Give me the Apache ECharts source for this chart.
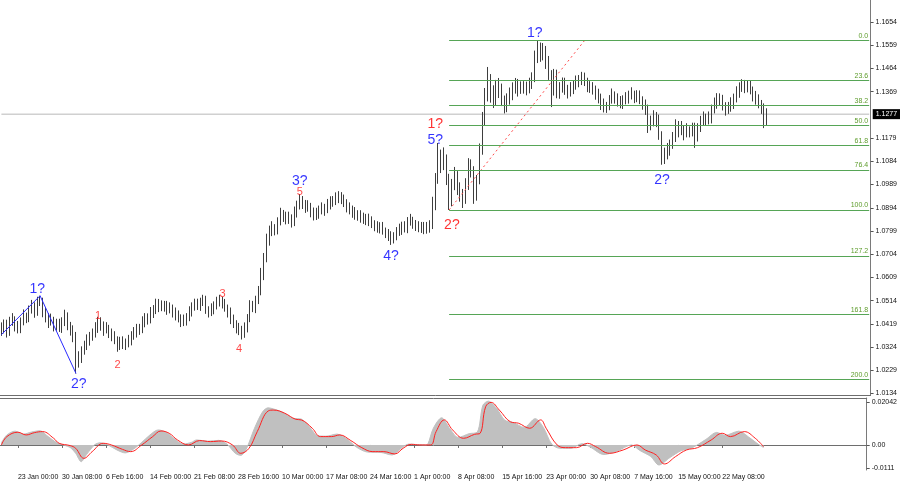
<!DOCTYPE html>
<html><head><meta charset="utf-8">
<script src="https://cdn.jsdelivr.net/npm/echarts@6/dist/echarts.min.js"></script>
<style>html,body{margin:0;padding:0;background:#fff}#c{width:900px;height:485px}</style>
</head><body><div id="c"></div>
<script>
// ---- data (8h slots) ----
const firstOpen = 1.0405;
const closes = [
1.0394,1.0415,1.0386,1.0427,1.0435,1.0410,1.0402,1.0427,1.0451,1.0443,
1.0476,1.0492,1.0468,1.0509,1.0517,1.0468,1.0443,1.0427,1.0435,1.0410,
1.0419,1.0402,1.0427,1.0443,1.0410,1.0394,1.0369,1.0264,1.0280,1.0313,
1.0328,1.0353,1.0369,1.0378,1.0402,1.0427,1.0410,1.0394,1.0402,1.0382,
1.0369,1.0353,1.0333,1.0345,1.0333,1.0341,1.0353,1.0369,1.0382,1.0402,
1.0394,1.0427,1.0443,1.0435,1.0464,1.0476,1.0501,1.0492,1.0488,1.0497,
1.0476,1.0484,1.0468,1.0451,1.0443,1.0427,1.0435,1.0443,1.0468,1.0492,
1.0501,1.0492,1.0509,1.0513,1.0476,1.0468,1.0480,1.0492,1.0509,1.0517,
1.0501,1.0484,1.0468,1.0435,1.0419,1.0402,1.0394,1.0378,1.0402,1.0443,
1.0492,1.0484,1.0517,1.0550,1.0620,1.0689,1.0762,1.0795,1.0811,1.0803,
1.0836,1.0869,1.0860,1.0844,1.0852,1.0836,1.0877,1.0901,1.0926,1.0910,
1.0893,1.0901,1.0877,1.0860,1.0869,1.0885,1.0893,1.0885,1.0906,1.0926,
1.0918,1.0934,1.0942,1.0926,1.0914,1.0897,1.0885,1.0877,1.0860,1.0869,
1.0852,1.0844,1.0852,1.0836,1.0828,1.0819,1.0811,1.0815,1.0799,1.0791,
1.0778,1.0762,1.0778,1.0795,1.0803,1.0819,1.0811,1.0836,1.0844,1.0828,
1.0819,1.0811,1.0819,1.0803,1.0811,1.0824,1.0906,1.1008,1.1111,1.1070,
1.1090,1.1016,1.0926,1.0988,1.1029,1.0975,1.0947,1.0926,1.0988,1.1070,
1.1041,1.0947,1.1008,1.1131,1.1253,1.1356,1.1417,1.1368,1.1335,1.1397,
1.1376,1.1335,1.1302,1.1335,1.1356,1.1384,1.1401,1.1376,1.1384,1.1392,
1.1376,1.1401,1.1425,1.1507,1.1547,1.1520,1.1532,1.1491,1.1438,1.1376,
1.1438,1.1368,1.1384,1.1401,1.1376,1.1368,1.1384,1.1392,1.1409,1.1417,
1.1425,1.1409,1.1392,1.1384,1.1376,1.1360,1.1343,1.1319,1.1302,1.1310,
1.1335,1.1356,1.1343,1.1327,1.1319,1.1335,1.1343,1.1352,1.1360,1.1343,
1.1352,1.1335,1.1319,1.1294,1.1237,1.1245,1.1269,1.1253,1.1192,1.1111,
1.1115,1.1131,1.1151,1.1179,1.1204,1.1228,1.1212,1.1196,1.1212,1.1204,
1.1220,1.1187,1.1220,1.1245,1.1261,1.1253,1.1261,1.1294,1.1319,1.1343,
1.1335,1.1310,1.1294,1.1302,1.1319,1.1343,1.1368,1.1384,1.1401,1.1384,
1.1392,1.1376,1.1352,1.1335,1.1319,1.1302,1.1245,1.1278];
const highs = [
1.0425,1.0437,1.0436,1.0448,1.0463,1.0450,1.0431,1.0445,1.0478,1.0465,
1.0494,1.0517,1.0507,1.0530,1.0534,1.0526,1.0488,1.0463,1.0461,1.0448,
1.0440,1.0440,1.0446,1.0477,1.0466,1.0427,1.0413,1.0386,1.0307,1.0327,
1.0350,1.0376,1.0386,1.0400,1.0426,1.0448,1.0446,1.0429,1.0426,1.0415,
1.0400,1.0389,1.0368,1.0366,1.0368,1.0359,1.0374,1.0389,1.0406,1.0419,
1.0419,1.0450,1.0463,1.0462,1.0488,1.0496,1.0522,1.0521,1.0515,1.0513,
1.0513,1.0507,1.0498,1.0486,1.0474,1.0458,1.0457,1.0463,1.0491,1.0507,
1.0522,1.0522,1.0526,1.0538,1.0534,1.0491,1.0503,1.0511,1.0530,1.0538,
1.0530,1.0521,1.0498,1.0486,1.0457,1.0434,1.0423,1.0411,1.0425,1.0459,
1.0516,1.0513,1.0534,1.0574,1.0648,1.0709,1.0788,1.0821,1.0839,1.0827,
1.0855,1.0894,1.0885,1.0878,1.0878,1.0867,1.0899,1.0923,1.0950,1.0942,
1.0926,1.0925,1.0914,1.0895,1.0894,1.0903,1.0916,1.0910,1.0930,1.0941,
1.0942,1.0957,1.0962,1.0958,1.0948,1.0929,1.0916,1.0903,1.0897,1.0884,
1.0884,1.0874,1.0869,1.0870,1.0859,1.0843,1.0839,1.0835,1.0836,1.0813,
1.0807,1.0798,1.0794,1.0815,1.0829,1.0837,1.0839,1.0856,1.0869,1.0857,
1.0844,1.0839,1.0836,1.0836,1.0836,1.0843,1.0939,1.1036,1.1159,1.1132,
1.1141,1.1112,1.1033,1.1012,1.1061,1.1044,1.0998,1.0971,1.1015,1.1097,
1.1092,1.1064,1.1028,1.1157,1.1286,1.1384,1.1470,1.1441,1.1395,1.1417,
1.1425,1.1402,1.1353,1.1362,1.1386,1.1407,1.1425,1.1421,1.1411,1.1412,
1.1410,1.1426,1.1448,1.1537,1.1578,1.1570,1.1568,1.1556,1.1515,1.1457,
1.1462,1.1459,1.1408,1.1427,1.1426,1.1397,1.1408,1.1415,1.1435,1.1437,
1.1450,1.1447,1.1426,1.1412,1.1408,1.1394,1.1381,1.1361,1.1341,1.1327,
1.1355,1.1382,1.1370,1.1362,1.1351,1.1354,1.1367,1.1373,1.1387,1.1373,
1.1375,1.1374,1.1350,1.1337,1.1316,1.1271,1.1293,1.1286,1.1275,1.1207,
1.1140,1.1159,1.1173,1.1204,1.1256,1.1249,1.1249,1.1231,1.1240,1.1227,
1.1242,1.1242,1.1240,1.1270,1.1288,1.1279,1.1288,1.1316,1.1345,1.1363,
1.1362,1.1356,1.1326,1.1327,1.1346,1.1361,1.1391,1.1407,1.1420,1.1417,
1.1416,1.1414,1.1390,1.1372,1.1358,1.1335,1.1321,1.1301];
const lows = [
1.0370,1.0380,1.0363,1.0370,1.0411,1.0388,1.0380,1.0381,1.0413,1.0422,
1.0426,1.0461,1.0444,1.0452,1.0492,1.0446,1.0425,1.0402,1.0412,1.0388,
1.0391,1.0386,1.0382,1.0410,1.0393,1.0371,1.0344,1.0216,1.0240,1.0259,
1.0293,1.0312,1.0330,1.0350,1.0363,1.0382,1.0391,1.0370,1.0380,1.0361,
1.0348,1.0336,1.0305,1.0312,1.0316,1.0312,1.0323,1.0331,1.0354,1.0363,
1.0374,1.0381,1.0405,1.0416,1.0421,1.0443,1.0459,1.0467,1.0471,1.0469,
1.0456,1.0462,1.0445,1.0433,1.0425,1.0406,1.0410,1.0412,1.0430,1.0449,
1.0473,1.0476,1.0472,1.0492,1.0460,1.0445,1.0451,1.0458,1.0478,1.0490,
1.0482,1.0469,1.0445,1.0418,1.0402,1.0380,1.0373,1.0355,1.0362,1.0384,
1.0426,1.0467,1.0463,1.0500,1.0536,1.0598,1.0671,1.0739,1.0778,1.0781,
1.0785,1.0822,1.0836,1.0826,1.0828,1.0813,1.0819,1.0854,1.0887,1.0889,
1.0873,1.0878,1.0855,1.0842,1.0844,1.0849,1.0867,1.0861,1.0872,1.0887,
1.0898,1.0905,1.0913,1.0909,1.0897,1.0875,1.0867,1.0853,1.0845,1.0841,
1.0833,1.0828,1.0823,1.0819,1.0811,1.0798,1.0792,1.0789,1.0784,1.0770,
1.0758,1.0742,1.0748,1.0761,1.0779,1.0783,1.0793,1.0790,1.0821,1.0808,
1.0799,1.0794,1.0791,1.0786,1.0788,1.0792,1.0807,1.0884,1.0992,1.1036,
1.1048,1.0987,1.0885,1.0900,1.0966,1.0946,1.0919,1.0893,1.0910,1.0967,
1.1018,1.0910,1.0923,1.0990,1.1111,1.1231,1.1329,1.1324,1.1302,1.1312,
1.1343,1.1310,1.1280,1.1285,1.1316,1.1334,1.1361,1.1349,1.1360,1.1361,
1.1354,1.1362,1.1380,1.1408,1.1486,1.1491,1.1497,1.1462,1.1417,1.1306,
1.1353,1.1342,1.1340,1.1365,1.1356,1.1341,1.1349,1.1359,1.1377,1.1387,
1.1396,1.1392,1.1367,1.1364,1.1357,1.1336,1.1321,1.1294,1.1284,1.1282,
1.1293,1.1320,1.1320,1.1308,1.1301,1.1298,1.1317,1.1320,1.1337,1.1322,
1.1326,1.1318,1.1295,1.1274,1.1200,1.1211,1.1227,1.1224,1.1172,1.1070,
1.1073,1.1092,1.1107,1.1135,1.1163,1.1182,1.1191,1.1170,1.1182,1.1182,
1.1186,1.1139,1.1165,1.1204,1.1229,1.1230,1.1235,1.1239,1.1280,1.1299,
1.1314,1.1292,1.1271,1.1278,1.1287,1.1298,1.1325,1.1344,1.1368,1.1363,
1.1366,1.1358,1.1329,1.1316,1.1301,1.1278,1.1220,1.1232];

const slotCount = 315;          // 8-hour slots across the plot (incl. empty right margin)
const tickStart = 6, tickStep = 16;
const tickLabels = ['23 Jan 00:00','30 Jan 08:00','6 Feb 16:00','14 Feb 00:00','21 Feb 08:00',
  '28 Feb 16:00','10 Mar 00:00','17 Mar 08:00','24 Mar 16:00','1 Apr 00:00','8 Apr 08:00',
  '15 Apr 16:00','23 Apr 00:00','30 Apr 08:00','7 May 16:00','15 May 00:00','22 May 08:00'];
const priceTicks = [1.1654,1.1559,1.1464,1.1369,1.1179,1.1084,1.0989,1.0894,1.0799,1.0704,
  1.0609,1.0514,1.0419,1.0324,1.0229,1.0134];
const lastPrice = 1.1277;

const fibLevels = [0,23.6,38.2,50,61.8,76.4,100,127.2,161.8,200];
const fibLow = [162, 1.0885];
const fibHigh = [211, 1.1578];

const waveLine = [[0,1.0375],[14,1.0534],[27,1.0216]];
// [text, slot, price, kind]  kind: b = blue wave, R = red wave, r = red sub-wave
const waveLabels = [
  ['1?',13,1.0562,'b'],['2?',28,1.0174,'b'],['1',35,1.0451,'r'],['2',42,1.0252,'r'],
  ['3',80,1.0542,'r'],['4',86,1.0316,'r'],['5',108,1.0959,'r'],['3?',108,1.1004,'b'],
  ['4?',141,1.0697,'b'],['5?',157,1.1171,'b'],['1?',157,1.1237,'R'],['2?',163,1.0824,'R'],
  ['1?',193,1.1609,'b'],['2?',239,1.1008,'b']];

const oscTicks = [0.02042, 0, -0.0111];
const oscTickText = ['0.02042','0.00','-0.0111'];
const macdHist = [[0,0.0010],[2,0.0048],[5,0.0066],[8,0.0052],[11,0.0062],[14,0.0068],[17,0.0040],
 [20,0.0012],[23,-0.0002],[25,-0.0012],[27,-0.0040],[29,-0.0080],[31,-0.0045],[34,0.0002],[36,0.0010],
 [39,-0.0002],[42,-0.0024],[45,-0.0038],[48,-0.0020],[51,0.0012],[54,0.0048],[57,0.0072],[60,0.0060],
 [63,0.0028],[66,0.0004],[69,0.0012],[71,0.0024],[75,0.0018],[79,0.0022],[82,0.0004],[85,-0.0040],
 [87,-0.0050],[89,-0.0020],[92,0.0080],[95,0.0160],[97,0.0178],[99,0.0172],[102,0.0158],[106,0.0128],
 [109,0.0124],[112,0.0086],[115,0.0044],[118,0.0042],[122,0.0052],[126,0.0024],[129,-0.0010],
 [133,-0.0034],[138,-0.0036],[142,-0.0048],[145,-0.0020],[148,0.0004],[151,0.0002],[154,0.0000],
 [155,0.0004],[157,0.0080],[160,0.0130],[163,0.0078],[166,0.0036],[170,0.0054],[173,0.0062],
 [175,0.0190],[177,0.0210],[180,0.0175],[183,0.0118],[186,0.0108],[190,0.0084],[194,0.0126],
 [197,0.0084],[200,0.0004],[203,-0.0016],[207,-0.0016],[211,0.0006],[214,-0.0010],[219,-0.0046],
 [224,-0.0028],[229,0.0000],[232,-0.0026],[236,-0.0055],[239,-0.0096],[243,-0.0060],[247,-0.0028],
 [251,-0.0014],[256,0.0026],[260,0.0060],[263,0.0046],[268,0.0066],[272,0.0034],[275,0.0004],[277,-0.0012]];
const macdSignal = [[0,0.0000],[2,0.0040],[6,0.0061],[9,0.0048],[12,0.0059],[15,0.0064],[19,0.0032],
 [21,0.0008],[25,-0.0003],[27,-0.0016],[30,-0.0064],[33,-0.0032],[37,0.0008],[40,0.0000],[44,-0.0021],
 [47,-0.0032],[51,0.0000],[55,0.0040],[58,0.0067],[61,0.0056],[64,0.0024],[68,0.0000],[72,0.0021],
 [76,0.0016],[80,0.0019],[84,0.0000],[87,-0.0040],[90,-0.0016],[93,0.0064],[97,0.0163],[99,0.0167],
 [103,0.0152],[107,0.0123],[109,0.0120],[113,0.0080],[116,0.0040],[120,0.0040],[123,0.0048],
 [127,0.0021],[131,-0.0013],[135,-0.0032],[139,-0.0032],[143,-0.0043],[146,-0.0016],[149,0.0003],
 [152,0.0000],[156,0.0000],[158,0.0064],[161,0.0120],[164,0.0072],[168,0.0032],[172,0.0051],
 [174,0.0056],[176,0.0183],[178,0.0204],[181,0.0167],[185,0.0111],[188,0.0104],[192,0.0080],
 [196,0.0120],[198,0.0080],[202,0.0000],[205,-0.0013],[209,-0.0013],[213,0.0008],[216,-0.0008],
 [221,-0.0040],[226,-0.0024],[231,0.0000],[234,-0.0024],[238,-0.0048],[241,-0.0091],[245,-0.0056],
 [249,-0.0024],[253,-0.0013],[258,0.0024],[262,0.0056],[265,0.0040],[270,0.0064],[274,0.0032],[277,-0.0008]];

// ---- build ----
const isTick = i => i >= tickStart && (i - tickStart) % tickStep === 0 && (i - tickStart) / tickStep < tickLabels.length;
const cats = Array.from({length: slotCount}, (_, i) => isTick(i) ? tickLabels[(i - tickStart) / tickStep] : 's' + i);
const ohlc = closes.map((c, i) => [i === 0 ? firstOpen : closes[i - 1], c, lows[i], highs[i]]);
const fibPrice = l => fibHigh[1] - (fibHigh[1] - fibLow[1]) * l / 100;
const axFont = '"Liberation Sans Narrow","Liberation Sans",Arial,sans-serif';
const kindStyle = {
  b: {color: '#0000ff', fontSize: 14},
  R: {color: '#ff0000', fontSize: 14},
  r: {color: '#ff1a1a', fontSize: 11}
};
const BAR = '#3e3e3e';

const chart = echarts.init(document.getElementById('c'), null, {renderer: 'canvas'});
chart.setOption({
  animation: false,
  backgroundColor: '#ffffff',
  grid: [
    {left: 0, right: 28, top: 0, height: 395},
    {left: 0, right: 28, top: 398, height: 72}
  ],
  xAxis: [
    {type: 'category', gridIndex: 0, data: cats, boundaryGap: true,
     axisLine: {show: true, lineStyle: {color: '#6e6e6e', width: 1}},
     axisTick: {show: false}, axisLabel: {show: false}, splitLine: {show: false}},
    {type: 'category', gridIndex: 1, data: cats, boundaryGap: true,
     axisLine: {show: true, lineStyle: {color: '#6e6e6e', width: 1}},
     axisTick: {show: true, alignWithLabel: true, length: 3, interval: (i) => isTick(i), lineStyle: {color: '#6e6e6e'}},
     axisLabel: {show: true, interval: (i) => isTick(i), align: 'left', margin: 4, fontSize: 7,
                 fontFamily: axFont, color: '#111'},
     splitLine: {show: false}},
    {type: 'category', gridIndex: 1, data: cats, position: 'top', boundaryGap: true,
     axisLine: {show: true, lineStyle: {color: '#6e6e6e', width: 1}},
     axisTick: {show: false}, axisLabel: {show: false}}
  ],
  yAxis: [
    {type: 'value', gridIndex: 0, position: 'right', min: 1.0128, max: 1.1744,
     axisLine: {show: true, lineStyle: {color: '#7a7a7a', width: 1}},
     axisTick: {show: true, length: 3, customValues: priceTicks, lineStyle: {color: '#555'}},
     axisLabel: {show: true, customValues: priceTicks, formatter: v => v.toFixed(4), fontSize: 7,
                 fontFamily: axFont, color: '#111', margin: 5},
     splitLine: {show: false}},
    {type: 'value', gridIndex: 1, position: 'right', min: -0.0120, max: 0.0225,
     axisLine: {show: true, lineStyle: {color: '#7a7a7a', width: 1}},
     axisTick: {show: true, length: 3, customValues: oscTicks, lineStyle: {color: '#555'}},
     axisLabel: {show: true, customValues: oscTicks,
                 formatter: v => oscTickText[oscTicks.findIndex(t => Math.abs(t - v) < 1e-9)] || '',
                 fontSize: 7, fontFamily: axFont, color: '#111', margin: 5},
     splitLine: {show: false}}
  ],
  series: [
    // current price line, labelled on the price axis
    {type: 'line', xAxisIndex: 0, yAxisIndex: 0, symbol: 'circle', symbolSize: 1, showSymbol: true,
     silent: true, z: 1, clip: false,
     itemStyle: {color: 'rgba(0,0,0,0)'},
     lineStyle: {color: '#d0d0d0', width: 1.5},
     data: [[0, lastPrice], {value: [slotCount - 1, lastPrice],
       label: {show: true, position: 'right', distance: 3, formatter: lastPrice.toFixed(4),
               backgroundColor: '#000', color: '#fff', fontSize: 7, fontFamily: axFont, padding: [2, 3, 1, 3]}}]},
    // fibonacci levels
    {type: 'line', xAxisIndex: 0, yAxisIndex: 0, data: [], silent: true,
     markLine: {silent: true, symbol: ['none', 'none'],
       lineStyle: {color: '#56a556', width: 1, type: 'solid'},
       label: {show: true, position: 'insideEndTop', color: '#5e9c2c', fontSize: 7, fontFamily: axFont, distance: 1},
       data: fibLevels.map(l => [
         {coord: [fibLow[0], fibPrice(l)], label: {formatter: l.toFixed(1)}},
         {coord: [slotCount - 1, fibPrice(l)]}
       ])}},
    {type: 'line', xAxisIndex: 0, yAxisIndex: 0, data: [fibLow, fibHigh], symbol: 'none', silent: true,
     lineStyle: {color: '#ff4a4a', width: 1, type: [2, 3]}},
    {type: 'candlestick', xAxisIndex: 0, yAxisIndex: 0, data: ohlc, barWidth: 1.2, silent: true,
     itemStyle: {color: BAR, color0: BAR, borderColor: BAR, borderColor0: BAR, borderWidth: 1}},
    {type: 'line', xAxisIndex: 0, yAxisIndex: 0, data: waveLine, symbol: 'none', silent: true,
     lineStyle: {color: '#2a2aff', width: 1}},
    {type: 'scatter', xAxisIndex: 0, yAxisIndex: 0, symbolSize: 1, silent: true,
     itemStyle: {color: 'rgba(0,0,0,0)'},
     data: waveLabels.map(w => ({value: [w[1], w[2]],
       label: {show: true, position: 'inside', formatter: w[0], fontFamily: '"Liberation Sans",Arial,sans-serif',
               color: kindStyle[w[3]].color, fontSize: kindStyle[w[3]].fontSize}}))},
    {type: 'line', xAxisIndex: 1, yAxisIndex: 1, data: macdHist, symbol: 'none', smooth: 0.3, silent: true,
     lineStyle: {color: '#c0c0c0', width: 1}, areaStyle: {color: '#c0c0c0', opacity: 1}},
    {type: 'line', xAxisIndex: 1, yAxisIndex: 1, data: macdSignal, symbol: 'none', smooth: 0.4, silent: true,
     lineStyle: {color: '#ff2020', width: 1}}
  ]
});
</script></body></html>
